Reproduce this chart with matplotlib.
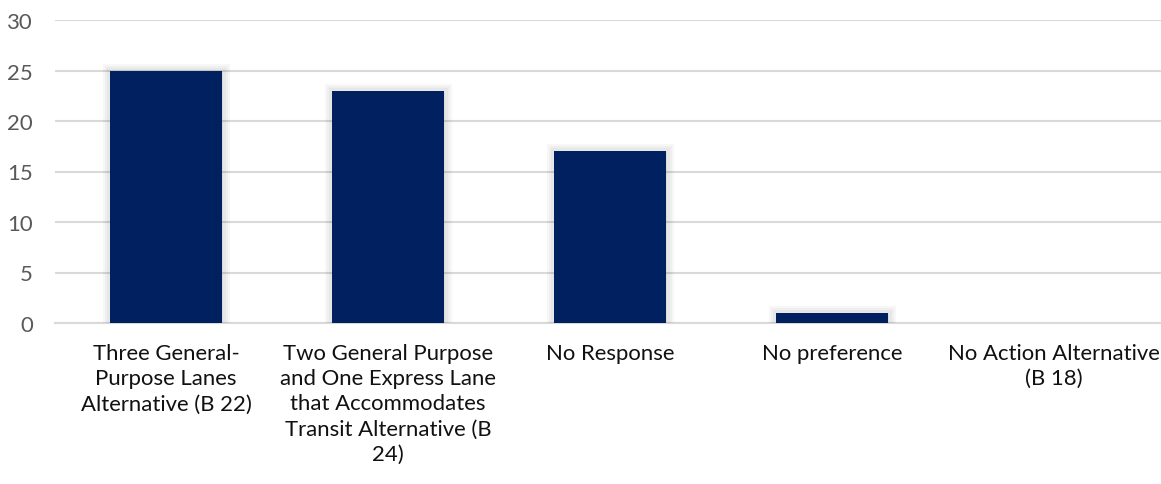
import matplotlib
matplotlib.use("Agg")
import matplotlib.pyplot as plt
import matplotlib.patheffects as pe
import numpy as np

# survey responses by preferred alternative
categories = [
    "Three General-\nPurpose Lanes\nAlternative (B 22)",
    "Two General Purpose\nand One Express Lane\nthat Accommodates\nTransit Alternative (B\n24)",
    "No Response",
    "No preference",
    "No Action Alternative\n(B 18)",
]
responses = [25, 23, 17, 1, 0]
y_ticks = [0, 5, 10, 15, 20, 25, 30]

plt.rcParams['font.family'] = ['Lato', 'DejaVu Sans']

fig = plt.figure(figsize=(11.61, 4.85), dpi=100)
ax = fig.add_axes([55 / 1161, 1 - 324 / 485, 1110 / 1161, 303 / 485])

x_pos = np.arange(len(categories))
# soft halo round the bars, like an office chart shadow
halo = [pe.Stroke(linewidth=w, foreground='#000000', alpha=0.03) for w in (11, 8, 5)]
bars = ax.bar(x_pos, responses, width=0.505, color='#002060', zorder=3)
for b in bars:
    if b.get_height() > 0:
        b.set_path_effects(halo + [pe.Normal()])

ax.set_xlim(-0.5, len(categories) - 0.5)
ax.set_ylim(0, 30)
ax.set_yticks(y_ticks)
ax.set_xticks(x_pos)
ax.set_xticklabels(categories, fontsize=15.9, color='#111111', linespacing=1.32)
ax.tick_params(axis='x', length=0, pad=14.5)
ax.tick_params(axis='y', length=0, pad=16, labelsize=15.9, labelcolor='#595959')

ax.grid(axis='y', color='#d9d9d9', linewidth=1.5, zorder=0)
for side in ['top', 'right', 'left']:
    ax.spines[side].set_visible(False)
ax.spines['bottom'].set_color('#d9d9d9')
ax.spines['bottom'].set_linewidth(1.5)

plt.savefig('out.png', dpi=100)
